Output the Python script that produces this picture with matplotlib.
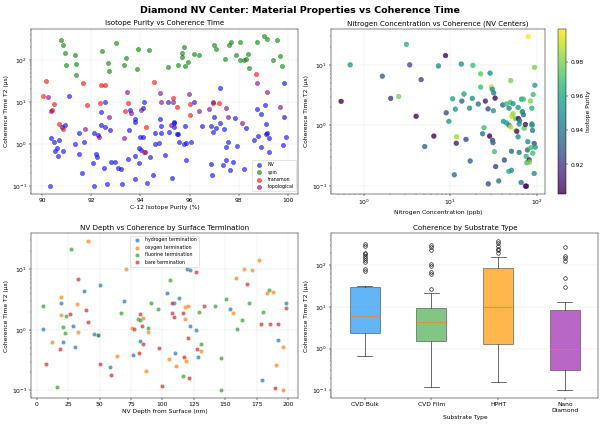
import matplotlib.pyplot as plt
import numpy as np

# --- panel 1: isotope purity vs T2, by qubit type ---
nv_purity = [91.08, 90.94, 90.79, 90.34, 90.46, 90.52, 90.61, 90.65, 90.67, 90.85, 90.31,
             91.35, 91.49, 91.49, 91.60, 91.69, 92.11, 92.06, 92.18, 92.24, 92.10, 92.25,
             92.39, 92.39, 92.54, 92.54, 92.76, 92.50, 92.62, 92.80, 92.97, 93.10, 93.22,
             93.26, 93.49, 93.52, 93.56, 93.79, 93.79, 93.78, 93.79, 93.96, 94.00, 94.02,
             94.09, 94.13, 94.12, 93.96, 94.19, 94.27, 94.37, 94.53, 94.60, 94.61, 94.77,
             94.80, 94.82, 94.83, 94.98, 95.12, 95.18, 95.28, 95.35, 95.36, 95.37, 95.48,
             95.54, 95.57, 95.77, 95.83, 95.85, 95.87, 96.07, 96.19, 96.49, 96.86, 96.98,
             97.07, 96.97, 96.89, 96.93, 97.26, 97.26, 97.41, 97.38, 97.49, 97.49, 97.58,
             97.67, 97.78, 97.84, 97.95, 98.24, 98.32, 98.62, 98.77, 98.80, 98.92, 98.91,
             99.07, 99.11, 99.10, 99.17, 99.24, 99.24, 99.86, 99.84, 99.80, 99.93]
nv_t2 = [13.8, 2.9, 2.5, 1.4, 1.09, 0.67, 0.81, 0.52, 1.26, 0.67, 0.10,
         1.02, 1.87, 0.58, 0.21, 1.09, 1.87, 0.35, 0.58, 0.50, 0.10, 1.65,
         5.65, 2.77, 10.0, 2.5, 2.2, 0.27, 0.11, 0.38, 0.37, 0.27, 0.26,
         0.11, 0.44, 2.2, 6.4, 4.0, 3.4, 0.52, 0.15, 0.82, 1.46, 0.74,
         7.1, 10.0, 1.5, 0.36, 0.64, 0.12, 0.49, 0.18, 1.02, 1.87, 1.07,
         3.95, 2.7, 1.87, 0.54, 10.2, 1.94, 0.16, 2.6, 3.4, 3.1, 1.71,
         1.77, 1.15, 0.98, 2.7, 1.05, 0.42, 1.15, 9.8, 2.7, 2.7, 4.5,
         2.4, 1.94, 0.34, 0.18, 3.2, 21.5, 2.3, 0.31, 0.87, 0.42, 1.15,
         0.24, 0.37, 4.2, 0.90, 0.25, 2.4, 1.26, 6.9, 1.53, 5.3, 0.87,
         8.5, 3.0, 1.71, 1.84, 1.38, 0.64, 29.0, 4.4, 0.93, 1.51]

spin_purity = [90.78, 90.85, 90.91, 90.95, 91.32, 91.36, 91.36, 93.00, 92.43, 92.69, 92.73,
               93.33, 93.42, 93.89, 93.85, 94.35, 95.14, 95.55, 95.68, 95.70, 95.78, 95.81,
               95.92, 96.19, 96.38, 96.98, 97.08, 97.45, 97.61, 97.68, 97.91, 98.04, 98.04,
               98.24, 98.31, 98.40, 98.43, 98.74, 99.02, 99.15, 99.56, 99.39, 99.67, 99.78]
spin_t2 = [292, 223, 148, 77, 128, 78, 44, 253, 159, 85, 55,
           74, 109, 180, 62, 174, 66, 74, 117, 143, 200, 72,
           91, 140, 128, 223, 184, 104, 223, 262, 128, 262, 100,
           100, 104, 135, 64, 262, 361, 319, 297, 100, 124, 71]

transmon_purity = [90.04, 90.16, 90.41, 90.48, 90.68, 90.86, 91.65, 91.81, 92.35, 92.39,
                   92.54, 93.37, 93.51, 94.22, 94.16, 94.54, 95.33, 95.50, 96.02, 96.02,
                   96.97, 97.20, 98.70]
transmon_t2 = [13.5, 31, 6.4, 8.8, 3.0, 2.3, 29, 8.7, 9.6, 25.8,
               25.8, 6.1, 9.6, 2.6, 0.65, 30, 12.6, 7.4, 4.9, 9.0,
               9.6, 9.5, 46]

topo_purity = [90.25, 90.34, 91.72, 92.30, 92.70, 93.33, 93.45, 93.60, 94.02, 94.80, 94.82,
               95.24, 95.31, 95.96, 96.40, 96.81, 96.97, 97.50, 97.57, 98.14, 98.77, 99.17,
               99.70]
topo_t2 = [12.9, 6.2, 2.3, 1.5, 4.5, 1.4, 16.8, 5.4, 6.5, 16.5, 10.2,
           2.9, 10.2, 15.3, 6.0, 6.9, 9.8, 7.2, 4.4, 3.1, 28.6, 17.7,
           7.5]

# --- panel 2: nitrogen concentration (NV only) ---
n_conc = [0.55, 0.70, 1.65, 2.06, 2.55, 3.13, 3.42, 4.05, 4.63, 5.1, 6.5, 7.35, 8.87, 9.03,
          9.7, 10.7, 11.2, 11.5, 11.9, 11.8, 13.5, 13.7, 14.5, 15.3, 16.8, 17.1, 18.1, 18.4,
          21.2, 22.6, 22.6, 23.8, 24.7, 25.6, 27.5, 27.7, 28.7, 29.0, 30.3, 30.8, 31.1, 32.0,
          31.4, 31.7, 32.6, 33.2, 33.7, 36.6, 40.7, 41.4, 42.5, 44.9, 44.9, 47.8, 48.2, 48.2,
          49.9, 50.3, 50.3, 51.3, 51.3, 51.8, 53.6, 53.6, 57.5, 58.1, 59.2, 61.2, 61.2, 61.8,
          63.0, 63.0, 64.0, 66.4, 67.0, 68.2, 68.8, 70.6, 70.6, 71.9, 74.5, 74.5, 76.5, 75.9,
          77.2, 78.6, 79.3, 80.0, 82.2, 83.0, 85.2, 86.0, 88.3, 88.3, 89.0, 89.9, 90.7, 91.5,
          94.0, 94.8, 95.7, 94.0, 96.5]
n_t2 = [2.5, 10.0, 6.5, 2.8, 3.0, 21.8, 10.0, 1.42, 5.7, 0.45, 0.67, 9.6, 14.2, 1.62,
        1.17, 2.76, 0.154, 1.86, 0.65, 0.51, 10.3, 2.53, 3.3, 0.59, 1.93, 0.26, 2.8, 9.8,
        2.26, 4.3, 7.1, 0.73, 0.92, 2.53, 1.88, 0.109, 0.67, 7.3, 4.3, 3.95, 0.57, 3.45,
        0.52, 1.75, 0.37, 2.83, 0.21, 0.122, 2.18, 1.17, 0.27, 2.26, 1.1, 0.175, 1.93, 1.01,
        2.41, 0.95, 5.5, 0.376, 0.183, 1.42, 2.29, 1.56, 1.3, 0.83, 0.80, 1.98, 0.65, 1.3,
        1.06, 0.36, 1.2, 0.115, 2.72, 1.66, 1.7, 2.72, 1.5, 0.90, 1.04, 0.10, 0.10, 0.31,
        0.244, 0.395, 0.54, 29.4, 0.272, 0.25, 2.53, 0.43, 1.93, 1.06, 1.01, 0.83, 0.35, 3.24,
        0.162, 9.1, 4.6, 0.506, 0.44]
n_purity = [0.905, 0.955, 0.935, 0.92, 0.98, 0.965, 0.925, 0.905, 0.925, 0.935, 0.905, 0.95, 0.905, 0.925,
            0.955, 0.96, 0.94, 0.955, 0.985, 0.91, 0.95, 0.935, 0.96, 0.925, 0.95, 0.935, 0.95, 0.97,
            0.94, 0.97, 0.975, 0.94, 0.97, 0.91, 0.925, 0.925, 0.903, 0.95, 0.99, 0.95, 0.925, 0.945,
            0.94, 0.955, 0.97, 0.905, 0.92, 0.94, 0.935, 0.955, 0.925, 0.97, 0.96, 0.965, 0.95, 0.94,
            0.97, 0.99, 0.98, 0.935, 0.95, 0.99, 0.955, 0.985, 0.975, 0.985, 0.91, 0.955, 0.95, 0.905,
            0.95, 0.94, 0.945, 0.94, 0.96, 0.985, 0.95, 0.97, 0.94, 0.975, 0.905, 0.905, 0.905, 0.965,
            0.97, 0.935, 0.95, 0.999, 0.91, 0.98, 0.98, 0.97, 0.965, 0.945, 0.95, 0.94, 0.97, 0.97,
            0.95, 0.98, 0.96, 0.925, 0.955]

# --- panel 3: depth vs T2 by surface termination ---
h_depth = [5.3, 19.7, 21.3, 28.5, 30.3, 37.5, 45.5, 48.7, 50.5, 69.7, 58.0, 76.9, 82.2,
           103.7, 109.3, 110.1, 113.3, 119.1, 121.8, 121.8, 126.3, 128.5, 153.7, 179.3, 192.0, 198.1]
h_t2 = [1.02, 2.75, 0.64, 1.17, 0.52, 4.35, 0.87, 0.81, 5.5, 2.97, 0.244, 0.38, 0.66,
        4.1, 2.75, 0.42, 3.3, 10.0, 9.6, 1.15, 1.0, 0.36, 2.25, 0.15, 0.68, 2.82]

o_depth = [41.0, 19.4, 19.7, 12.0, 31.9, 33.2, 71.0, 63.8, 76.0, 84.3, 88.8, 87.0, 105.0,
           110.6, 118.1, 119.9, 117.8, 118.4, 130.9, 155.9, 158.8, 164.4, 171.5, 176.6, 183.2,
           188.0, 189.9, 195.5, 195.5]
o_t2 = [29.8, 3.44, 1.74, 0.64, 2.68, 0.93, 10.0, 0.37, 1.07, 1.59, 0.91, 0.21, 0.33,
        0.25, 2.43, 2.52, 1.53, 0.31, 0.44, 1.9, 7.25, 10.3, 9.6, 14.2, 4.04,
        4.3, 0.26, 0.53, 0.10]

f_depth = [5.3, 26.9, 20.7, 22.3, 23.4, 16.0, 48.4, 67.0, 80.9, 82.2, 88.6, 90.7, 96.8,
           106.1, 116.5, 129.3, 130.9, 141.5, 146.5, 146.3, 150.8, 159.3, 163.0, 169.1, 180.0, 184.8]
f_t2 = [2.52, 21.9, 1.1, 0.9, 1.68, 0.112, 0.82, 1.87, 1.53, 1.46, 1.08, 2.75, 2.23,
        6.56, 0.175, 1.94, 0.58, 2.49, 0.34, 0.10, 3.2, 1.04, 1.43, 2.79, 1.94, 4.57]

b_depth = [7.7, 18.6, 26.3, 33.0, 39.1, 40.7, 50.3, 59.0, 77.4, 81.1, 82.2, 83.8, 84.8,
           97.3, 99.7, 107.2, 107.2, 109.0, 116.5, 117.3, 119.9, 121.0, 126.3, 127.1, 133.0,
           167.3, 178.2, 185.6, 191.8, 189.6, 198.1]
b_t2 = [0.27, 0.48, 1.85, 7.06, 2.15, 1.37, 0.27, 0.18, 1.02, 0.42, 1.85, 1.17, 0.59,
        0.51, 0.12, 2.79, 1.87, 1.63, 1.9, 0.36, 0.73, 0.158, 8.94, 0.49, 2.49,
        5.8, 1.27, 1.27, 1.27, 0.109, 2.28]

# --- panel 4: box statistics per substrate ---
substrates = ['CVD Bulk', 'CVD Film', 'HPHT', 'Nano\nDiamond']
box_low = [0.65, 0.12, 0.163, 0.10]
box_q1 = [2.33, 1.51, 1.26, 0.316]
box_med = [6.15, 4.3, 10.0, 1.0]
box_q3 = [29.4, 9.65, 85.0, 8.35]
box_high = [32.2, 21.7, 157.0, 13.3]
box_fliers = [[328, 294, 198, 181, 166, 146, 133, 122, 80.5, 73.6],
              [27.4, 61.5, 70, 96, 105, 229, 269, 309],
              [198, 225, 245, 284, 340, 385],
              [30, 48.7, 126, 146, 166, 274]]
box_colors = ['#2196F3', '#4CAF50', '#FF9800', '#9C27B0']

fig, axes = plt.subplots(2, 2, figsize=(14, 9.94), dpi=42.86)
fig.suptitle('Diamond NV Center: Material Properties vs Coherence Time',
             fontsize=16, fontweight='bold', y=0.985)

# Isotope purity
ax = axes[0, 0]
ax.scatter(nv_purity, nv_t2, c='blue', s=50, alpha=0.6, label='NV')
ax.scatter(spin_purity, spin_t2, c='green', s=50, alpha=0.6, label='spin')
ax.scatter(transmon_purity, transmon_t2, c='red', s=50, alpha=0.6, label='transmon')
ax.scatter(topo_purity, topo_t2, c='purple', s=50, alpha=0.6, label='topological')
ax.set_yscale('log')
ax.set_xlabel('C-12 Isotope Purity (%)')
ax.set_ylabel('Coherence Time T2 (μs)')
ax.set_title('Isotope Purity vs Coherence Time')
ax.legend(loc='lower right', fontsize=8)
ax.grid(True, alpha=0.3)

# Nitrogen concentration
ax = axes[0, 1]
sc = ax.scatter(n_conc, n_t2, c=n_purity, cmap='viridis', s=60, alpha=0.8)
ax.set_xscale('log')
ax.set_yscale('log')
ax.set_xlabel('Nitrogen Concentration (ppb)')
ax.set_ylabel('Coherence Time T2 (μs)')
ax.set_title('Nitrogen Concentration vs Coherence (NV Centers)')
cb = fig.colorbar(sc, ax=ax)
cb.set_label('Isotope Purity')
ax.grid(True, alpha=0.3)

# Depth by termination
ax = axes[1, 0]
for d, t, lab in [(h_depth, h_t2, 'hydrogen termination'),
                  (o_depth, o_t2, 'oxygen termination'),
                  (f_depth, f_t2, 'fluorine termination'),
                  (b_depth, b_t2, 'bare termination')]:
    ax.scatter(d, t, s=50, alpha=0.7, edgecolors='white', linewidths=0.5, label=lab)
ax.set_yscale('log')
ax.set_xlabel('NV Depth from Surface (nm)')
ax.set_ylabel('Coherence Time T2 (μs)')
ax.set_title('NV Depth vs Coherence by Surface Termination')
ax.legend(loc='upper center', fontsize=8)
ax.grid(True, alpha=0.3)

# Substrate boxplot
ax = axes[1, 1]
stats = []
for i in range(len(substrates)):
    stats.append(dict(label=substrates[i], whislo=box_low[i], q1=box_q1[i], med=box_med[i],
                      q3=box_q3[i], whishi=box_high[i], fliers=box_fliers[i]))
bp = ax.bxp(stats, widths=0.45, patch_artist=True,
            boxprops=dict(linewidth=1.2, edgecolor='#333333'),
            whiskerprops=dict(linewidth=1.2, color='#333333'),
            capprops=dict(linewidth=1.2, color='#333333'),
            medianprops=dict(color='C1', linewidth=1.2),
            flierprops=dict(marker='o', markerfacecolor='none', markeredgecolor='black'))
for patch, col in zip(bp['boxes'], box_colors):
    patch.set_facecolor(col)
    patch.set_alpha(0.7)
ax.set_yscale('log')
ax.set_xlabel('Substrate Type')
ax.set_ylabel('Coherence Time T2 (μs)')
ax.set_title('Coherence by Substrate Type')
ax.grid(True, alpha=0.3, axis='y')

fig.subplots_adjust(left=0.052, right=0.997, top=0.932, bottom=0.066,
                    wspace=0.125, hspace=0.24)
plt.savefig('out.png')
